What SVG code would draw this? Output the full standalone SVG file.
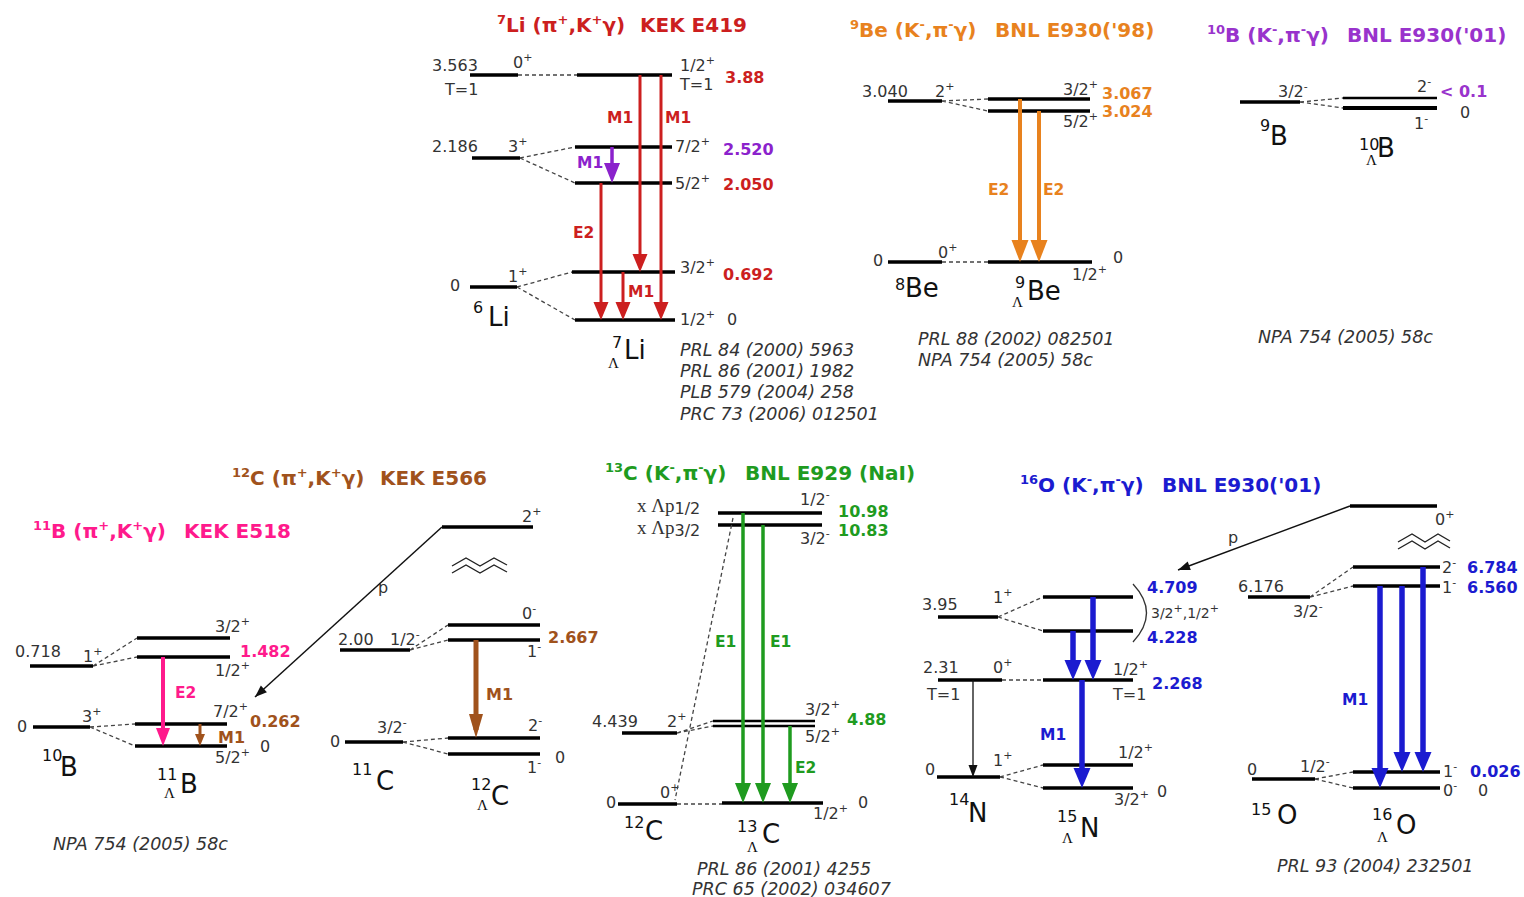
<svg xmlns="http://www.w3.org/2000/svg" width="1524" height="897" viewBox="0 0 1524 897">
<style>
text{font-family:"DejaVu Sans",sans-serif}
.t{font-size:16px;fill:#333}
.t14{font-size:14px;fill:#333}
.s{font-size:11px}
.ttl{font-size:20px;font-weight:bold}
.ts{font-size:13px}
.e{font-size:16px;font-weight:bold}
.ml{font-size:15.5px;font-weight:bold}
.ref{font-size:17.5px;font-style:italic;fill:#333}
.nu{font-size:26px;fill:#111}
.nm{font-size:16px;fill:#111}
.lam{font-family:"Liberation Serif",serif;font-size:15px;fill:#111}
.lv{stroke:#000;stroke-width:3.5}
.lv2{stroke:#000;stroke-width:2.5}
.ds{stroke:#444;stroke-width:1.3;stroke-dasharray:4 3;fill:none}
.red{fill:#cc1f1f}.pur{fill:#8b22cc}.org{fill:#e8821e}.vio{fill:#9933cc}.pnk{fill:#ff1a8c}.brn{fill:#a0521c}.grn{fill:#1f9b1f}.blu{fill:#1b1bd0}
.ar{fill:none}
.wv{fill:none;stroke:#222;stroke-width:1.4}
</style>
<defs>
<marker id="mR" markerUnits="userSpaceOnUse" markerWidth="18" markerHeight="15" refX="10" refY="7.5" orient="auto" overflow="visible"><path d="M0,0 L18,7.5 L0,15 z" fill="#cc1f1f"/></marker>
<marker id="mP" markerUnits="userSpaceOnUse" markerWidth="20" markerHeight="16" refX="12" refY="8" orient="auto" overflow="visible"><path d="M0,0 L20,8 L0,16 z" fill="#8b22cc"/></marker>
<marker id="mO" markerUnits="userSpaceOnUse" markerWidth="22" markerHeight="17" refX="14" refY="8.5" orient="auto" overflow="visible"><path d="M0,0 L22,8.5 L0,17 z" fill="#e8821e"/></marker>
<marker id="mPk" markerUnits="userSpaceOnUse" markerWidth="18" markerHeight="14" refX="10" refY="7" orient="auto" overflow="visible"><path d="M0,0 L18,7 L0,14 z" fill="#ff1a8c"/></marker>
<marker id="mBr" markerUnits="userSpaceOnUse" markerWidth="24" markerHeight="14" refX="16" refY="7" orient="auto" overflow="visible"><path d="M0,0 L24,7 L0,14 z" fill="#a0521c"/></marker>
<marker id="mBs" markerUnits="userSpaceOnUse" markerWidth="12" markerHeight="10" refX="6" refY="5" orient="auto" overflow="visible"><path d="M0,0 L12,5 L0,10 z" fill="#a0521c"/></marker>
<marker id="mG" markerUnits="userSpaceOnUse" markerWidth="20" markerHeight="16" refX="12" refY="8" orient="auto" overflow="visible"><path d="M0,0 L20,8 L0,16 z" fill="#1f9b1f"/></marker>
<marker id="mB" markerUnits="userSpaceOnUse" markerWidth="20" markerHeight="17" refX="12" refY="8.5" orient="auto" overflow="visible"><path d="M0,0 L20,8.5 L0,17 z" fill="#1b1bd0"/></marker>
<marker id="mK" markerUnits="userSpaceOnUse" markerWidth="12" markerHeight="9" refX="12" refY="4.5" orient="auto" overflow="visible"><path d="M0,0 L12,4.5 L0,9 z" fill="#111"/></marker>
</defs>
<rect width="1524" height="897" fill="#fff"/>

<!-- Titles -->
<g id="titles">
<text class="ttl red" x="497" y="32"><tspan class="ts" dy="-8">7</tspan><tspan dy="8">Li (π</tspan><tspan class="ts" dy="-8">+</tspan><tspan dy="8">,K</tspan><tspan class="ts" dy="-8">+</tspan><tspan dy="8">γ)</tspan></text>
<text class="ttl red" x="640" y="32">KEK E419</text>
<text class="ttl org" x="850" y="37"><tspan class="ts" dy="-8">9</tspan><tspan dy="8">Be (K</tspan><tspan class="ts" dy="-8">-</tspan><tspan dy="8">,π</tspan><tspan class="ts" dy="-8">-</tspan><tspan dy="8">γ)</tspan></text>
<text class="ttl org" x="995" y="37">BNL E930('98)</text>
<text class="ttl vio" x="1207" y="42"><tspan class="ts" dy="-8">10</tspan><tspan dy="8">B (K</tspan><tspan class="ts" dy="-8">-</tspan><tspan dy="8">,π</tspan><tspan class="ts" dy="-8">-</tspan><tspan dy="8">γ)</tspan></text>
<text class="ttl vio" x="1347" y="42">BNL E930('01)</text>
<text class="ttl pnk" x="33" y="538"><tspan class="ts" dy="-8">11</tspan><tspan dy="8">B (π</tspan><tspan class="ts" dy="-8">+</tspan><tspan dy="8">,K</tspan><tspan class="ts" dy="-8">+</tspan><tspan dy="8">γ)</tspan></text>
<text class="ttl pnk" x="184" y="538">KEK E518</text>
<text class="ttl brn" x="232" y="485"><tspan class="ts" dy="-8">12</tspan><tspan dy="8">C (π</tspan><tspan class="ts" dy="-8">+</tspan><tspan dy="8">,K</tspan><tspan class="ts" dy="-8">+</tspan><tspan dy="8">γ)</tspan></text>
<text class="ttl brn" x="380" y="485">KEK E566</text>
<text class="ttl grn" x="605" y="480"><tspan class="ts" dy="-8">13</tspan><tspan dy="8">C (K</tspan><tspan class="ts" dy="-8">-</tspan><tspan dy="8">,π</tspan><tspan class="ts" dy="-8">-</tspan><tspan dy="8">γ)</tspan></text>
<text class="ttl grn" x="745" y="480">BNL E929 (NaI)</text>
<text class="ttl blu" x="1020" y="492"><tspan class="ts" dy="-8">16</tspan><tspan dy="8">O (K</tspan><tspan class="ts" dy="-8">-</tspan><tspan dy="8">,π</tspan><tspan class="ts" dy="-8">-</tspan><tspan dy="8">γ)</tspan></text>
<text class="ttl blu" x="1162" y="492">BNL E930('01)</text>
</g>

<!-- ===== 7Li section ===== -->
<g id="li6-3563"><line class="lv" x1="470" y1="75" x2="518" y2="75"/><text class="t" x="432" y="71">3.563</text><text class="t" x="445" y="95">T=1</text><text class="t" x="513" y="68">0<tspan class="s" dy="-7">+</tspan></text></g>
<g id="li6-2186"><line class="lv" x1="472" y1="158" x2="520" y2="158"/><text class="t" x="432" y="152">2.186</text><text class="t" x="508" y="152">3<tspan class="s" dy="-7">+</tspan></text></g>
<g id="li6-0"><line class="lv" x1="470" y1="287" x2="517" y2="287"/><text class="t" x="450" y="291">0</text><text class="t" x="508" y="282">1<tspan class="s" dy="-7">+</tspan></text></g>
<g id="li7-388"><line class="lv" x1="577" y1="75" x2="672" y2="75"/><text class="t" x="680" y="71">1/2<tspan class="s" dy="-7">+</tspan></text><text class="t" x="680" y="90">T=1</text><text class="e red" x="725" y="83">3.88</text></g>
<g id="li7-2520"><line class="lv" x1="575" y1="147" x2="672" y2="147"/><text class="t" x="675" y="152">7/2<tspan class="s" dy="-7">+</tspan></text><text class="e pur" x="723" y="155">2.520</text></g>
<g id="li7-2050"><line class="lv" x1="575" y1="183" x2="672" y2="183"/><text class="t" x="675" y="189">5/2<tspan class="s" dy="-7">+</tspan></text><text class="e red" x="723" y="190">2.050</text></g>
<g id="li7-0692"><line class="lv" x1="572" y1="272" x2="675" y2="272"/><text class="t" x="680" y="273">3/2<tspan class="s" dy="-7">+</tspan></text><text class="e red" x="723" y="280">0.692</text></g>
<g id="li7-0"><line class="lv" x1="575" y1="320" x2="675" y2="320"/><text class="t" x="680" y="325">1/2<tspan class="s" dy="-7">+</tspan></text><text class="t" x="727" y="325">0</text></g>
<g id="li-labels">
<text class="nm" x="473" y="313">6</text><text class="nu" x="488" y="326">Li</text>
<text class="nm" x="612" y="348">7</text><text class="lam" x="608" y="368">Λ</text><text class="nu" x="624" y="359">Li</text>
<text class="ref" x="680" y="356">PRL 84 (2000) 5963</text>
<text class="ref" x="680" y="377">PRL 86 (2001) 1982</text>
<text class="ref" x="680" y="398">PLB 579 (2004) 258</text>
<text class="ref" x="680" y="420">PRC 73 (2006) 012501</text>
<text class="ml red" x="573" y="238">E2</text>
<text class="ml red" x="607" y="123">M1</text>
<text class="ml red" x="665" y="123">M1</text>
<text class="ml red" x="628" y="297">M1</text>
<text class="ml pur" x="577" y="168">M1</text>
</g>

<!-- ===== 9Be section ===== -->
<g id="be8-3040"><line class="lv" x1="888" y1="101" x2="942" y2="101"/><text class="t" x="862" y="97">3.040</text><text class="t" x="935" y="97">2<tspan class="s" dy="-7">+</tspan></text></g>
<g id="be8-0"><line class="lv" x1="888" y1="262" x2="942" y2="262"/><text class="t" x="873" y="266">0</text><text class="t" x="938" y="258">0<tspan class="s" dy="-7">+</tspan></text></g>
<g id="be9-3067"><line class="lv" x1="988" y1="99" x2="1090" y2="99"/><text class="t" x="1063" y="95">3/2<tspan class="s" dy="-7">+</tspan></text><text class="e org" x="1102" y="99">3.067</text></g>
<g id="be9-3024"><line class="lv" x1="988" y1="111" x2="1090" y2="111"/><text class="t" x="1063" y="127">5/2<tspan class="s" dy="-7">+</tspan></text><text class="e org" x="1102" y="117">3.024</text></g>
<g id="be9-0"><line class="lv" x1="988" y1="262" x2="1092" y2="262"/><text class="t" x="1072" y="280">1/2<tspan class="s" dy="-7">+</tspan></text><text class="t" x="1113" y="263">0</text></g>
<g id="be-labels">
<text class="nm" x="895" y="290">8</text><text class="nu" x="905" y="297">Be</text>
<text class="nm" x="1015" y="288">9</text><text class="lam" x="1012" y="307">Λ</text><text class="nu" x="1027" y="300">Be</text>
<text class="ref" x="918" y="345">PRL 88 (2002) 082501</text>
<text class="ref" x="918" y="366">NPA 754 (2005) 58c</text>
<text class="ml org" x="988" y="195">E2</text>
<text class="ml org" x="1043" y="195">E2</text>
</g>

<!-- ===== 10B section ===== -->
<g id="b9-0"><line class="lv" x1="1240" y1="102" x2="1300" y2="102"/><text class="t" x="1278" y="97">3/2<tspan class="s" dy="-7">-</tspan></text></g>
<g id="b10-2"><line class="lv2" x1="1343" y1="98" x2="1437" y2="98"/><text class="t" x="1417" y="92">2<tspan class="s" dy="-7">-</tspan></text><text class="e vio" x="1440" y="97">&lt; 0.1</text></g>
<g id="b10-1"><line stroke="#000" stroke-width="4" x1="1343" y1="108" x2="1437" y2="108"/><text class="t" x="1414" y="129">1<tspan class="s" dy="-7">-</tspan></text><text class="t" x="1460" y="118">0</text></g>
<g id="b10-labels">
<text class="nm" x="1260" y="131">9</text><text class="nu" x="1270" y="145">B</text>
<text class="nm" x="1359" y="150">10</text><text class="lam" x="1366" y="165">Λ</text><text class="nu" x="1377" y="157">B</text>
<text class="ref" x="1258" y="343">NPA 754 (2005) 58c</text>
</g>

<!-- ===== 11B section ===== -->
<g id="b10-0718"><line class="lv" x1="30" y1="666" x2="93" y2="666"/><text class="t" x="15" y="657">0.718</text><text class="t" x="83" y="662">1<tspan class="s" dy="-7">+</tspan></text></g>
<g id="b10-0"><line class="lv" x1="33" y1="727" x2="90" y2="727"/><text class="t" x="17" y="732">0</text><text class="t" x="82" y="722">3<tspan class="s" dy="-7">+</tspan></text></g>
<g id="b11-32"><line class="lv" x1="137" y1="638" x2="230" y2="638"/><text class="t" x="215" y="632">3/2<tspan class="s" dy="-7">+</tspan></text></g>
<g id="b11-12"><line class="lv" x1="137" y1="657" x2="230" y2="657"/><text class="t" x="215" y="676">1/2<tspan class="s" dy="-7">+</tspan></text><text class="e pnk" x="240" y="657">1.482</text></g>
<g id="b11-72"><line class="lv" x1="135" y1="724" x2="227" y2="724"/><text class="t" x="213" y="717">7/2<tspan class="s" dy="-7">+</tspan></text><text class="e brn" x="250" y="727">0.262</text></g>
<g id="b11-52"><line class="lv" x1="135" y1="746" x2="227" y2="746"/><text class="t" x="215" y="763">5/2<tspan class="s" dy="-7">+</tspan></text><text class="t" x="260" y="752">0</text></g>
<g id="b11-labels">
<text class="nm" x="42" y="761">10</text><text class="nu" x="60" y="776">B</text>
<text class="nm" x="157" y="780">11</text><text class="lam" x="164" y="798">Λ</text><text class="nu" x="180" y="793">B</text>
<text class="ref" x="53" y="850">NPA 754 (2005) 58c</text>
<text class="ml pnk" x="175" y="698">E2</text>
<text class="e brn" x="218" y="743">M1</text>
</g>

<!-- ===== 12C section ===== -->
<g id="c12-2p"><line class="lv" x1="442" y1="527" x2="533" y2="527"/><text class="t" x="522" y="522">2<tspan class="s" dy="-7">+</tspan></text></g>
<g id="c11-200"><line class="lv" x1="340" y1="650" x2="410" y2="650"/><text class="t" x="338" y="645">2.00</text><text class="t" x="390" y="645">1/2<tspan class="s" dy="-7">-</tspan></text></g>
<g id="c11-0"><line class="lv" x1="345" y1="742" x2="403" y2="742"/><text class="t" x="330" y="747">0</text><text class="t" x="377" y="733">3/2<tspan class="s" dy="-7">-</tspan></text></g>
<g id="c12-0m"><line class="lv" x1="448" y1="625" x2="540" y2="625"/><text class="t" x="522" y="619">0<tspan class="s" dy="-7">-</tspan></text></g>
<g id="c12-1m"><line class="lv" x1="448" y1="640" x2="540" y2="640"/><text class="t" x="527" y="657">1<tspan class="s" dy="-7">-</tspan></text><text class="e brn" x="548" y="643">2.667</text></g>
<g id="c12-2m"><line class="lv" x1="448" y1="738" x2="540" y2="738"/><text class="t" x="528" y="731">2<tspan class="s" dy="-7">-</tspan></text></g>
<g id="c12-1g"><line class="lv" x1="448" y1="754" x2="540" y2="754"/><text class="t" x="527" y="773">1<tspan class="s" dy="-7">-</tspan></text><text class="t" x="555" y="763">0</text></g>
<g id="c12-labels">
<text class="nm" x="352" y="775">11</text><text class="nu" x="376" y="790">C</text>
<text class="nm" x="471" y="790">12</text><text class="lam" x="477" y="810">Λ</text><text class="nu" x="491" y="805">C</text>
<text class="e brn" x="486" y="700">M1</text>
<text class="t" x="378" y="593">p</text>
<path class="wv" d="M452,566 L466,558 L480,566 L494,558 L507,565"/>
<path class="wv" d="M452,573 L466,565 L480,573 L494,565 L507,572"/>
</g>

<!-- ===== 13C section ===== -->
<g id="c13-p12"><line class="lv" x1="718" y1="513" x2="822" y2="513"/><text class="t" x="637" y="512"><tspan font-family="Liberation Serif" font-size="19">x Λp</tspan><tspan dy="2">1/2</tspan></text><text class="t" x="800" y="505">1/2<tspan class="s" dy="-7">-</tspan></text><text class="e grn" x="838" y="517">10.98</text></g>
<g id="c13-p32"><line class="lv" x1="718" y1="525" x2="822" y2="525"/><text class="t" x="637" y="534"><tspan font-family="Liberation Serif" font-size="19">x Λp</tspan><tspan dy="2">3/2</tspan></text><text class="t" x="800" y="544">3/2<tspan class="s" dy="-7">-</tspan></text><text class="e grn" x="838" y="536">10.83</text></g>
<g id="c12-4439"><line class="lv" x1="622" y1="733" x2="677" y2="733"/><text class="t" x="592" y="727">4.439</text><text class="t" x="667" y="727">2<tspan class="s" dy="-7">+</tspan></text></g>
<g id="c13-488"><line class="lv2" x1="713" y1="721" x2="815" y2="721"/><line class="lv2" x1="713" y1="726" x2="815" y2="726"/><text class="t" x="805" y="715">3/2<tspan class="s" dy="-7">+</tspan></text><text class="t" x="805" y="742">5/2<tspan class="s" dy="-7">+</tspan></text><text class="e grn" x="847" y="725">4.88</text></g>
<g id="c12-0"><line class="lv" x1="618" y1="804" x2="677" y2="804"/><text class="t" x="606" y="808">0</text><text class="t" x="660" y="798">0<tspan class="s" dy="-7">+</tspan></text></g>
<g id="c13-0"><line class="lv" x1="722" y1="803" x2="823" y2="803"/><text class="t" x="813" y="819">1/2<tspan class="s" dy="-7">+</tspan></text><text class="t" x="858" y="808">0</text></g>
<g id="c13-labels">
<text class="nm" x="624" y="828">12</text><text class="nu" x="645" y="840">C</text>
<text class="nm" x="737" y="832">13</text><text class="lam" x="747" y="852">Λ</text><text class="nu" x="762" y="843">C</text>
<text class="ref" x="697" y="875">PRL 86 (2001) 4255</text>
<text class="ref" x="692" y="895">PRC 65 (2002) 034607</text>
<text class="ml grn" x="715" y="647">E1</text>
<text class="ml grn" x="770" y="647">E1</text>
<text class="ml grn" x="795" y="773">E2</text>
</g>

<!-- ===== 15N / 16O section ===== -->
<g id="n14-395"><line class="lv" x1="938" y1="617" x2="998" y2="617"/><text class="t" x="922" y="610">3.95</text><text class="t" x="993" y="603">1<tspan class="s" dy="-7">+</tspan></text></g>
<g id="n14-231"><line class="lv" x1="938" y1="680" x2="1002" y2="680"/><text class="t" x="923" y="673">2.31</text><text class="t" x="993" y="673">0<tspan class="s" dy="-7">+</tspan></text><text class="t" x="927" y="700">T=1</text></g>
<g id="n14-0"><line class="lv" x1="937" y1="777" x2="1000" y2="777"/><text class="t" x="925" y="775">0</text><text class="t" x="993" y="766">1<tspan class="s" dy="-7">+</tspan></text></g>
<g id="n15-4709"><line class="lv" x1="1043" y1="597" x2="1133" y2="597"/><text class="e blu" x="1147" y="593">4.709</text></g>
<g id="n15-4228"><line class="lv" x1="1043" y1="631" x2="1133" y2="631"/><text class="e blu" x="1147" y="643">4.228</text><path d="M1133,584 Q1160,613 1133,642" fill="none" stroke="#333" stroke-width="1.3"/><text class="t14" x="1151" y="618">3/2<tspan class="s" dy="-6">+</tspan><tspan dy="6">,1/2</tspan><tspan class="s" dy="-6">+</tspan></text></g>
<g id="n15-2268"><line class="lv" x1="1043" y1="680" x2="1133" y2="680"/><text class="t" x="1113" y="675">1/2<tspan class="s" dy="-7">+</tspan></text><text class="t" x="1113" y="700">T=1</text><text class="e blu" x="1152" y="689">2.268</text></g>
<g id="n15-12"><line class="lv" x1="1043" y1="765" x2="1133" y2="765"/><text class="t" x="1118" y="758">1/2<tspan class="s" dy="-7">+</tspan></text></g>
<g id="n15-0"><line class="lv" x1="1043" y1="788" x2="1133" y2="788"/><text class="t" x="1114" y="805">3/2<tspan class="s" dy="-7">+</tspan></text><text class="t" x="1157" y="797">0</text></g>
<g id="o16-0p"><line class="lv" x1="1350" y1="506" x2="1437" y2="506"/><text class="t" x="1435" y="525">0<tspan class="s" dy="-7">+</tspan></text></g>
<g id="o15-6176"><line class="lv" x1="1248" y1="597" x2="1310" y2="597"/><text class="t" x="1238" y="592">6.176</text><text class="t" x="1293" y="617">3/2<tspan class="s" dy="-7">-</tspan></text></g>
<g id="o16-2"><line class="lv" x1="1353" y1="567" x2="1440" y2="567"/><text class="t" x="1442" y="573">2<tspan class="s" dy="-7">-</tspan></text><text class="e blu" x="1467" y="573">6.784</text></g>
<g id="o16-1h"><line class="lv" x1="1353" y1="586" x2="1440" y2="586"/><text class="t" x="1442" y="593">1<tspan class="s" dy="-7">-</tspan></text><text class="e blu" x="1467" y="593">6.560</text></g>
<g id="o15-0"><line class="lv" x1="1252" y1="779" x2="1315" y2="779"/><text class="t" x="1247" y="775">0</text><text class="t" x="1300" y="772">1/2<tspan class="s" dy="-7">-</tspan></text></g>
<g id="o16-1g"><line class="lv" x1="1353" y1="772" x2="1440" y2="772"/><text class="t" x="1443" y="777">1<tspan class="s" dy="-7">-</tspan></text><text class="e blu" x="1470" y="777">0.026</text></g>
<g id="o16-0g"><line class="lv" x1="1353" y1="788" x2="1440" y2="788"/><text class="t" x="1443" y="796">0<tspan class="s" dy="-7">-</tspan></text><text class="t" x="1478" y="796">0</text></g>
<g id="no-labels">
<text class="nm" x="949" y="805">14</text><text class="nu" x="968" y="822">N</text>
<text class="nm" x="1057" y="822">15</text><text class="lam" x="1062" y="843">Λ</text><text class="nu" x="1080" y="837">N</text>
<text class="nm" x="1251" y="815">15</text><text class="nu" x="1277" y="824">O</text>
<text class="nm" x="1372" y="820">16</text><text class="lam" x="1377" y="842">Λ</text><text class="nu" x="1396" y="834">O</text>
<text class="ref" x="1277" y="872">PRL 93 (2004) 232501</text>
<text class="ml blu" x="1040" y="740">M1</text>
<text class="ml blu" x="1342" y="705">M1</text>
<text class="t" x="1228" y="543">p</text>
<path class="wv" d="M1398,542 L1412,534 L1425,542 L1438,534 L1450,541"/>
<path class="wv" d="M1398,549 L1412,541 L1425,549 L1438,541 L1450,548"/>
</g>

<!-- ===== Connectors ===== -->
<g id="connectors">
<!-- dashed correlations -->
<path class="ds" d="M518,75 L577,75 M520,158 L575,147 M520,158 L575,183 M517,287 L572,272 M517,287 L575,320"/>
<path class="ds" d="M942,101 L988,99 M942,101 L988,111 M942,262 L988,262"/>
<path class="ds" d="M1300,102 L1343,98 M1300,102 L1343,108"/>
<path class="ds" d="M93,666 L137,638 M93,666 L137,657 M90,727 L135,724 M90,727 L135,746"/>
<path class="ds" d="M410,650 L448,625 M410,650 L448,640 M403,742 L448,738 M403,742 L448,754"/>
<path class="ds" d="M733,518 L675,800 M677,733 L713,721 M677,733 L713,726 M677,804 L722,804"/>
<path class="ds" d="M998,617 L1043,597 M998,617 L1043,631 M1002,680 L1043,680 M1000,777 L1043,765 M1000,777 L1043,788"/>
<path class="ds" d="M1310,597 L1353,567 M1310,597 L1353,586 M1315,779 L1353,772 M1315,779 L1353,788"/>
<!-- 7Li transitions -->
<line x1="601" y1="183" x2="601" y2="312" stroke="#cc1f1f" stroke-width="3" marker-end="url(#mR)"/>
<line x1="640" y1="75" x2="640" y2="264" stroke="#cc1f1f" stroke-width="3" marker-end="url(#mR)"/>
<line x1="661" y1="75" x2="661" y2="312" stroke="#cc1f1f" stroke-width="3" marker-end="url(#mR)"/>
<line x1="623" y1="272" x2="623" y2="312" stroke="#cc1f1f" stroke-width="3" marker-end="url(#mR)"/>
<line x1="612" y1="147" x2="612" y2="175" stroke="#8b22cc" stroke-width="3.5" marker-end="url(#mP)"/>
<!-- 9Be transitions -->
<line x1="1020" y1="99" x2="1020" y2="254" stroke="#e8821e" stroke-width="4" marker-end="url(#mO)"/>
<line x1="1039" y1="111" x2="1039" y2="254" stroke="#e8821e" stroke-width="4" marker-end="url(#mO)"/>
<!-- 11B transitions -->
<line x1="163" y1="657" x2="163" y2="738" stroke="#ff1a8c" stroke-width="4" marker-end="url(#mPk)"/>
<line x1="200" y1="724" x2="200" y2="740" stroke="#a0521c" stroke-width="3" marker-end="url(#mBs)"/>
<!-- 12C transitions -->
<line x1="476" y1="640" x2="476" y2="730" stroke="#a0521c" stroke-width="5" marker-end="url(#mBr)"/>
<line x1="442" y1="527" x2="255" y2="697" stroke="#111" stroke-width="1.5" marker-end="url(#mK)"/>
<!-- 13C transitions -->
<line x1="743" y1="513" x2="743" y2="795" stroke="#1f9b1f" stroke-width="3.5" marker-end="url(#mG)"/>
<line x1="763" y1="525" x2="763" y2="795" stroke="#1f9b1f" stroke-width="3.5" marker-end="url(#mG)"/>
<line x1="790" y1="726" x2="790" y2="795" stroke="#1f9b1f" stroke-width="3.5" marker-end="url(#mG)"/>
<!-- 15N transitions -->
<line x1="1073" y1="631" x2="1073" y2="672" stroke="#1b1bd0" stroke-width="5.5" marker-end="url(#mB)"/>
<line x1="1093" y1="597" x2="1093" y2="672" stroke="#1b1bd0" stroke-width="5.5" marker-end="url(#mB)"/>
<line x1="1082" y1="680" x2="1082" y2="780" stroke="#1b1bd0" stroke-width="5.5" marker-end="url(#mB)"/>
<line x1="973" y1="680" x2="973" y2="777" stroke="#111" stroke-width="1.3" marker-end="url(#mK)"/>
<line x1="1350" y1="506" x2="1178" y2="570" stroke="#111" stroke-width="1.5" marker-end="url(#mK)"/>
<!-- 16O transitions -->
<line x1="1380" y1="586" x2="1380" y2="780" stroke="#1b1bd0" stroke-width="5.5" marker-end="url(#mB)"/>
<line x1="1402" y1="586" x2="1402" y2="764" stroke="#1b1bd0" stroke-width="5.5" marker-end="url(#mB)"/>
<line x1="1423" y1="567" x2="1423" y2="764" stroke="#1b1bd0" stroke-width="5.5" marker-end="url(#mB)"/>
</g>
</svg>
